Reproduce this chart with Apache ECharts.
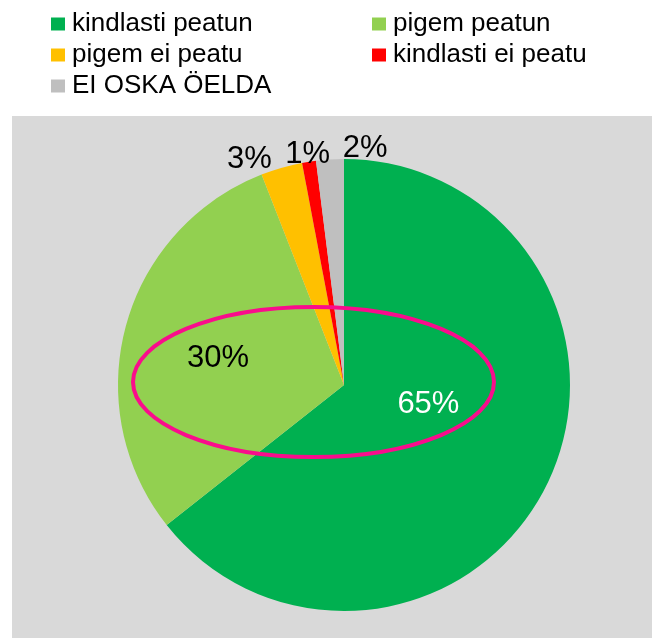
<!DOCTYPE html>
<html>
<head>
<meta charset="utf-8">
<script src="https://cdn.jsdelivr.net/npm/echarts@6/dist/echarts.min.js"></script>
<style>html,body{margin:0;padding:0;background:#fff}#c{width:652px;height:638px}</style>
</head>
<body>
<div id="c"></div>
<script>
var categories = ['kindlasti peatun', 'pigem peatun', 'pigem ei peatu', 'kindlasti ei peatu', 'EI OSKA ÖELDA'];
var values = [65, 30, 3, 1, 2];
var colors = ['#00B050', '#92D050', '#FFC000', '#FF0000', '#BFBFBF'];

var FONT = '"Liberation Sans", Arial, sans-serif';
var labelPos = ['inside', 'inside', 'outside', 'outside', 'outside'];
var labelColor = ['#ffffff', '#000000', '#000000', '#000000', '#000000'];
var labelShift = [[-20, -31], [-14, 4], [-3, -3], [27, -1], [63, -5]];

var chart = echarts.init(document.getElementById('c'));
var data = categories.map(function (n, i) {
  return {
    name: n, value: values[i],
    itemStyle: { color: colors[i] },
    label: { position: labelPos[i], color: labelColor[i] }
  };
});
function legendCfg(left, idx) {
  return {
    orient: 'vertical', left: left, top: 11, padding: 0, itemWidth: 14, itemHeight: 13, itemGap: 5,
    icon: 'rect', selectedMode: false,
    textStyle: { fontFamily: FONT, fontSize: 26, color: '#000', lineHeight: 26, padding: [0, 0, 0, 2] },
    data: idx.map(function (i) { return categories[i]; })
  };
}
chart.setOption({
  animation: false,
  backgroundColor: '#ffffff',
  graphic: [
    { type: 'rect', left: 12, top: 116, z: -10, shape: { width: 640, height: 522 }, style: { fill: '#D9D9D9' } },
    { type: 'ellipse', z: 100, shape: { cx: 313.5, cy: 382, rx: 180.5, ry: 75 }, style: { fill: 'none', stroke: '#FA0C8C', lineWidth: 4 } }
  ],
  legend: [legendCfg(51, [0, 2, 4]), legendCfg(372, [1, 3])],
  series: [{
    type: 'pie',
    center: [344, 385],
    radius: [0, 226],
    startAngle: 90,
    clockwise: true,
    avoidLabelOverlap: false,
    data: data,
    label: {
      fontFamily: FONT, fontSize: 31,
      formatter: function (p) { return p.value + '%'; }
    },
    labelLine: { show: false, length: 6, length2: 0 },
    labelLayout: function (p) {
      var s = labelShift[p.dataIndex];
      return { dx: s[0], dy: s[1] };
    },
    emphasis: { disabled: true }
  }]
});
</script>
</body>
</html>
